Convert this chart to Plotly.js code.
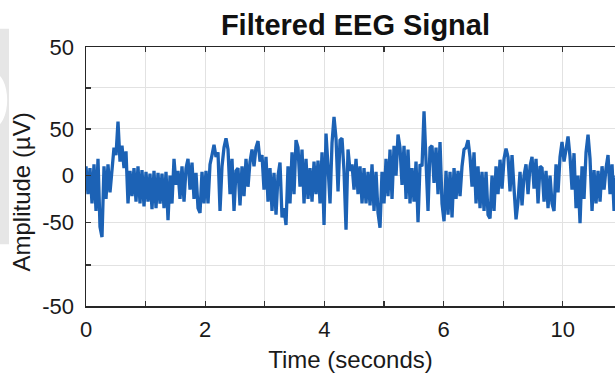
<!DOCTYPE html>
<html>
<head>
<meta charset="utf-8">
<script src="https://cdn.plot.ly/plotly-3.0.1.min.js"></script>
<style>html,body{margin:0;padding:0;background:#fff;}#chart{width:615px;height:374px;}</style>
</head>
<body>
<div id="chart"></div>
<script>
const sampleInterval = 0.03356; // seconds between samples
const amplitude = [
  10,-20,8,-30,12,-38,18,-55,-66,10, -25,12,-18,5,30,22,58,15,32,8, 26,-30,5,-22,8,-28,10,-30,6,-33, 4,-28,2,-36,5,-35,3,-30,
  2,-35,4,-48,0,-30,18,-10,5,-25, 10,-28,8,18,-15,14,-25,3,-35,-40, 4,-30,5,-30,12,22,33,20,25,-38, 10,30,40,28,-20,18,-38,5,
  8,-32,10,-22,18,-12,15,28,10,30, 37,15,22,-15,20,-28,8,-38,3,-42, 0,14,-45,-35,-53,10,-30,25,-20,38, 30,-12,28,-30,18,-25,8,-28,
  15,-20,16,-30,25,-53,45,10,-30,35, 63,40,-17,38,40,5,-58,28,5,12, -15,18,-20,10,-30,8,-30,4,-32,12, -38,4,-40,-56,4,-30,18,-22,
  28,-25,32,0,44,30,-10,32,-25,28, -30,8,-28,15,-50,12,10,69,22,-38, 30,32,-8,30,-20,36,-30,-49,5,-42, 4,-45,8,-25,5,-22,10,28,
  30,38,20,-12,25,-30,10,-35,4,-38, 4,-42,-46,0,-38,10,-20,17,-14,18, 29,20,-17,22,-14,-47,-28,4,-32,0, 12,-20,10,20,-14,18,-30,10,
  8,-28,5,-35,0,-30,-38,12,-18,20, 36,15,28,42,20,-15,24,-35,0,-51, 10,-25,25,44,18,-38,6,-30,5,-28, 10,-15,8,22,-20,12,-38,0
];
// Axis tick positions and labels (as printed in the reference)
const xTickVals = [0,1,2,3,4,5,6,7,8];
const xTickText = ['0','','2','','4','','6','','10'];
const yTickVals = [-140,-96,-50,0,50,94,138];
const yTickText = ['-50','','-50','0','50','','50'];

const font = 'Liberation Sans, Arial, Helvetica, sans-serif';
const trace = {
  type: 'scatter', mode: 'lines',
  y: amplitude, x0: 0, dx: sampleInterval,
  line: {color: '#1c62b5', width: 3.3},
  hoverinfo: 'skip'
};
const layout = {
  width: 615, height: 374,
  margin: {l: 86, r: 0, t: 47, b: 68},
  paper_bgcolor: '#ffffff', plot_bgcolor: '#ffffff',
  showlegend: false,
  title: {
    text: '<b>Filtered EEG Signal</b>',
    font: {family: font, size: 29, color: '#111111'},
    x: 0.578, xref: 'container', xanchor: 'center',
    y: 0.933, yref: 'container', yanchor: 'middle'
  },
  xaxis: {
    range: [0, 8.876], tickmode: 'array', tickvals: xTickVals, ticktext: xTickText,
    ticks: 'inside', ticklen: 5, tickwidth: 1.2, tickcolor: '#333333',
    showline: true, linecolor: '#262626', linewidth: 1.5, mirror: 'ticks',
    showgrid: true, gridcolor: '#e2e2e2', gridwidth: 1, zeroline: false,
    tickfont: {family: font, size: 22, color: '#1a1a1a'}, ticklabelstandoff: 3,
    title: {text: 'Time (seconds)', font: {family: font, size: 24, color: '#1a1a1a'}, standoff: 10}
  },
  yaxis: {
    range: [-140, 138], tickmode: 'array', tickvals: yTickVals, ticktext: yTickText,
    ticks: 'inside', ticklen: 5, tickwidth: 1.2, tickcolor: '#333333',
    showline: true, linecolor: '#262626', linewidth: 1.5, mirror: false,
    showgrid: true, gridcolor: '#e2e2e2', gridwidth: 1, zeroline: false,
    tickfont: {family: font, size: 22, color: '#1a1a1a'}, ticklabelstandoff: 6
  },
  annotations: [
    {text: 'Amplitude (µV)', textangle: -90, showarrow: false,
     xref: 'paper', yref: 'paper', x: -0.121, y: 0.442, xanchor: 'center', yanchor: 'middle',
     font: {family: font, size: 24, color: '#1a1a1a'}}
  ],
  shapes: [
    {type: 'rect', xref: 'paper', yref: 'paper', x0: -0.1626, x1: -0.1456, y0: 0.238, y1: 1.07,
     fillcolor: '#e6e6e6', line: {width: 0}, layer: 'below'},
    {type: 'circle', xref: 'paper', yref: 'paper', x0: -0.200, x1: -0.149, y0: 0.69, y1: 0.90,
     fillcolor: '#ffffff', line: {width: 0}, layer: 'below'}
  ]
};
Plotly.newPlot('chart', [trace], layout, {staticPlot: true, displayModeBar: false});
</script>
</body>
</html>
